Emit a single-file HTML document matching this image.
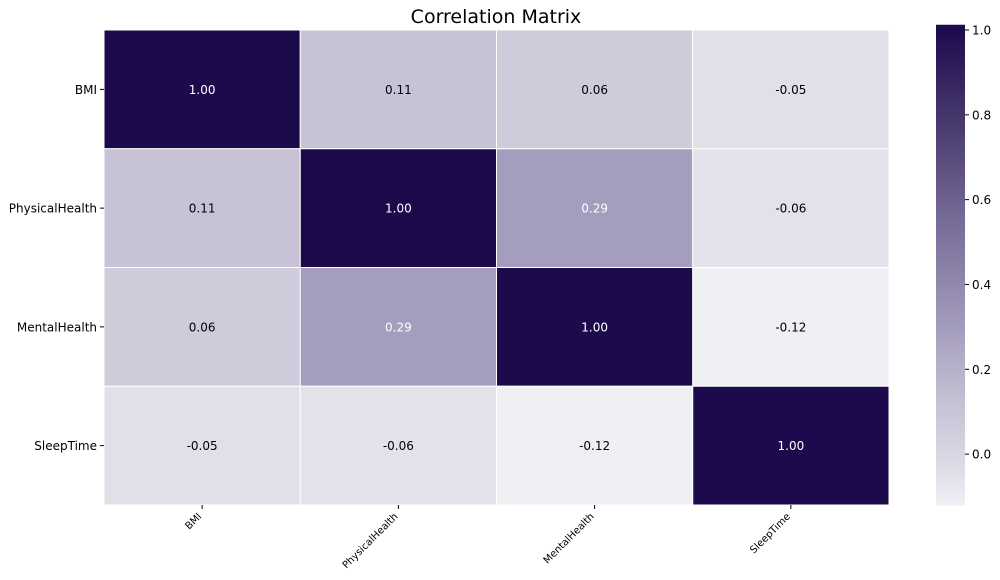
<!DOCTYPE html>
<html><head><meta charset="utf-8"><style>
body{margin:0;background:#fff;width:1000px;height:576px;overflow:hidden;font-family:"DejaVu Sans","Liberation Sans",sans-serif}
svg text{font-family:"DejaVu Sans","Liberation Sans",sans-serif}
</style></head><body>
<svg id="chart" width="1000" height="576" xmlns="http://www.w3.org/2000/svg">
<text x="496" y="23" font-size="19" text-anchor="middle" fill="#000">Correlation Matrix</text>
<g id="cells"></g><g id="labels"></g><g id="cbar"></g>
</svg>
<script>
const categories=["BMI","PhysicalHealth","MentalHealth","SleepTime"];
const row0=[1.00,0.11,0.06,-0.05];
const row1=[0.11,1.00,0.29,-0.06];
const row2=[0.06,0.29,1.00,-0.12];
const row3=[-0.05,-0.06,-0.12,1.00];
const matrix=[row0,row1,row2,row3];
const cbarTicks=[0.0,0.2,0.4,0.6,0.8,1.0];
const vmin=-0.12,vmax=1.0;
const X0=104,X1=889,Y0=30,Y1=505;
const cw=(X1-X0)/categories.length,ch=(Y1-Y0)/categories.length;
const stops=[[0,[240,239,244]],[0.06,[225,223,232]],[0.16,[206,203,219]],[0.21,[198,193,212]],[0.37,[164,156,188]],[0.6,[118,106,150]],[0.8,[72,58,110]],[1,[29,10,77]]];
function color(v){let t=(v-vmin)/(vmax-vmin);t=Math.max(0,Math.min(1,t));
for(let i=1;i<stops.length;i++){if(t<=stops[i][0]){const a=stops[i-1],b=stops[i];const f=(t-a[0])/(b[0]-a[0]);
return 'rgb('+a[1].map((c,k)=>Math.round(c+(b[1][k]-c)*f)).join(',')+')';}}return 'rgb(29,10,77)';}
const NS="http://www.w3.org/2000/svg";
function el(tag,attrs,parent){const e=document.createElementNS(NS,tag);for(const k in attrs)e.setAttribute(k,attrs[k]);parent.appendChild(e);return e;}
const cells=document.getElementById('cells'),labels=document.getElementById('labels'),cb=document.getElementById('cbar');
matrix.forEach((row,i)=>row.forEach((v,j)=>{
 const r=el('rect',{x:X0+j*cw,y:Y0+i*ch,width:cw,height:ch,fill:color(v),stroke:'#fff','stroke-width':1},cells);
 
 
 const t=el('text',{x:X0+(j+0.5)*cw,y:Y0+(i+0.5)*ch+4.5,'font-size':12,'text-anchor':'middle',fill:(v>0.25?'#fff':'#000')},cells);
 t.textContent=v.toFixed(2);
 
 
}));
categories.forEach((c,i)=>{
 const y=Y0+(i+0.5)*ch;
 el('line',{x1:X0-4,x2:X0,y1:y,y2:y,stroke:'#000'},labels);
 const t=el('text',{x:X0-7,y:y+4.5,'font-size':12,'text-anchor':'end',fill:'#000'},labels);
 t.textContent=c;
 
 
 const x=X0+(i+0.5)*cw;
 el('line',{x1:x,x2:x,y1:Y1,y2:Y1+4,stroke:'#000'},labels);
 const tx=el('text',{x:x,y:Y1+12,'font-size':10,'text-anchor':'end',fill:'#000',transform:'rotate(-45 '+x+' '+(Y1+12)+')'},labels);
 tx.textContent=c;
 
 
});
const CX=936,CW=29;
const cy=v=>Y1-(v-vmin)/(vmax-vmin)*(Y1-Y0);
for(let k=0;k<=100;k++){const v=vmin+(vmax-vmin)*k/100;const y0=cy(v);
 const s=el('rect',{x:CX,y:y0-(Y1-Y0)/100-0.5,width:CW,height:(Y1-Y0)/100+1,fill:color(v)},cb);
 
 }
cbarTicks.forEach(v=>{const y=cy(v);
 el('line',{x1:CX+CW,x2:CX+CW+4,y1:y,y2:y,stroke:'#000'},cb);
 const t=el('text',{x:CX+CW+7,y:y+4.5,'font-size':12,fill:'#000'},cb);
 t.textContent=v.toFixed(1);
 
 });
</script>
</body></html>
